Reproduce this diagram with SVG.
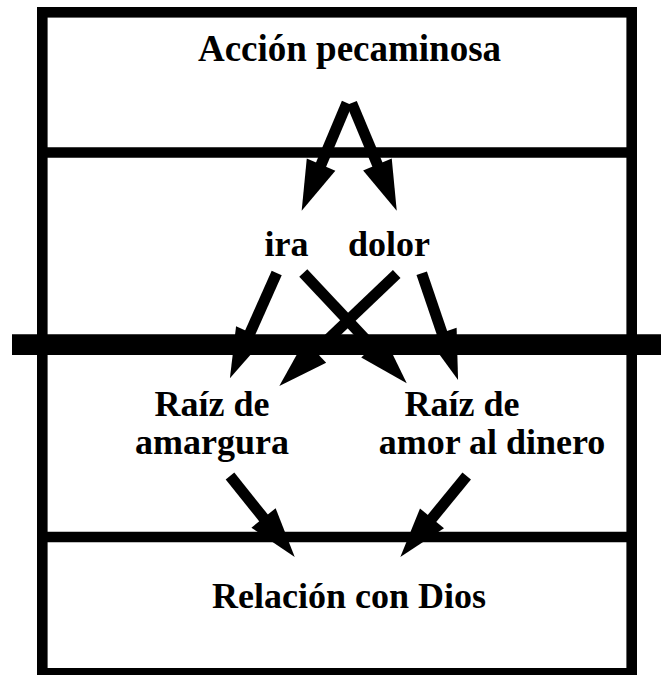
<svg xmlns="http://www.w3.org/2000/svg" width="667" height="675" viewBox="0 0 667 675">
<style>
.frame{fill:none;stroke:#000;stroke-width:10.6}
.sep{stroke:#000;stroke-width:10.6}
.thick{stroke:#000;stroke-width:20.7}
.lbl{font-family:"Liberation Serif","Times New Roman",serif;font-weight:bold;font-size:36px;fill:#000;text-anchor:middle}
.arr{fill:none;stroke:#000;stroke-width:11;stroke-linecap:butt;marker-end:url(#head)}
</style>
<defs>
<marker id="head" markerUnits="userSpaceOnUse" markerWidth="52" markerHeight="32" refX="3" refY="15.5" orient="auto" overflow="visible">
<path d="M0,0 L50,15.5 L0,31 Z" fill="#000"/>
</marker>
</defs>
<rect width="667" height="675" fill="#fff"/>
<g id="frame">
<rect class="frame" x="42.3" y="12.3" width="589.4" height="661"/>
<line class="sep" x1="42" y1="152.5" x2="632" y2="152.5"/>
<line class="thick" x1="12" y1="344.7" x2="661" y2="344.7"/>
<line class="sep" x1="42" y1="537" x2="632" y2="537"/>
</g>
<g id="accion"><text class="lbl" x="349.5" y="61" style="font-size:37px">Acción pecaminosa</text></g>
<g id="ira"><text class="lbl" x="286.5" y="256">ira</text></g>
<g id="dolor"><text class="lbl" x="389" y="256">dolor</text></g>
<g id="amargura"><text class="lbl" x="212" y="416">Raíz de</text><text class="lbl" x="212" y="454">amargura</text></g>
<g id="dinero"><text class="lbl" x="462" y="416">Raíz de</text><text class="lbl" x="492" y="454">amor al dinero</text></g>
<g id="dios"><text class="lbl" x="349" y="608">Relación con Dios</text></g>
<g id="connectors">
<path class="arr" d="M347,103 L319.9,167.4"/>
<path class="arr" d="M351.7,103 L378.6,167.3"/>
<path class="arr" d="M276.7,273 L249,335.3"/>
<path class="arr" d="M303.3,273 L374.6,349"/>
<path class="arr" d="M396.7,274 L313.3,353.6"/>
<path class="arr" d="M421.7,273.3 L442.9,335.5"/>
<path class="arr" d="M230,476 L265.4,520.3"/>
<path class="arr" d="M466.7,476 L430.1,520.7"/>
</g>
</svg>
